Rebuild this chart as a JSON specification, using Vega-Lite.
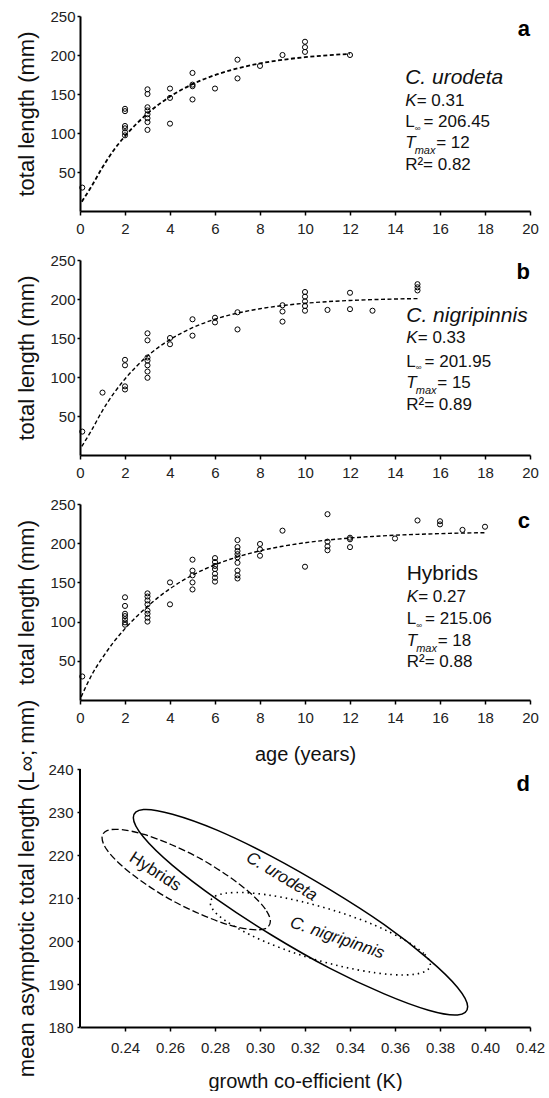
{
  "$schema": "https://vega.github.io/schema/vega-lite/v6.json",
  "padding": {"left": 15, "top": 9, "right": 0, "bottom": 0},
  "background": "white",
  "datasets": {
    "points": [
      {"panel":"a","age":0.1,"len":30},
      {"panel":"a","age":2,"len":131},{"panel":"a","age":2,"len":128},{"panel":"a","age":2,"len":109},{"panel":"a","age":2,"len":106},{"panel":"a","age":2,"len":101},{"panel":"a","age":2,"len":97},
      {"panel":"a","age":3,"len":156},{"panel":"a","age":3,"len":150},{"panel":"a","age":3,"len":133},{"panel":"a","age":3,"len":129},{"panel":"a","age":3,"len":124},{"panel":"a","age":3,"len":119},{"panel":"a","age":3,"len":114},{"panel":"a","age":3,"len":104},
      {"panel":"a","age":4,"len":157},{"panel":"a","age":4,"len":145},{"panel":"a","age":4,"len":112},
      {"panel":"a","age":5,"len":177},{"panel":"a","age":5,"len":162},{"panel":"a","age":5,"len":160},{"panel":"a","age":5,"len":143},
      {"panel":"a","age":6,"len":157},
      {"panel":"a","age":7,"len":194},{"panel":"a","age":7,"len":170},
      {"panel":"a","age":8,"len":186},
      {"panel":"a","age":9,"len":200},
      {"panel":"a","age":10,"len":217},{"panel":"a","age":10,"len":210},{"panel":"a","age":10,"len":204},
      {"panel":"a","age":12,"len":200},
      {"panel":"b","age":0.1,"len":30},{"panel":"b","age":1,"len":80},
      {"panel":"b","age":2,"len":122},{"panel":"b","age":2,"len":115},{"panel":"b","age":2,"len":88},{"panel":"b","age":2,"len":84},
      {"panel":"b","age":3,"len":156},{"panel":"b","age":3,"len":147},{"panel":"b","age":3,"len":125},{"panel":"b","age":3,"len":121},{"panel":"b","age":3,"len":115},{"panel":"b","age":3,"len":107},{"panel":"b","age":3,"len":99},
      {"panel":"b","age":4,"len":150},{"panel":"b","age":4,"len":142},
      {"panel":"b","age":5,"len":174},{"panel":"b","age":5,"len":153},
      {"panel":"b","age":6,"len":176},{"panel":"b","age":6,"len":170},
      {"panel":"b","age":7,"len":183},{"panel":"b","age":7,"len":161},
      {"panel":"b","age":9,"len":192},{"panel":"b","age":9,"len":184},{"panel":"b","age":9,"len":171},
      {"panel":"b","age":10,"len":209},{"panel":"b","age":10,"len":203},{"panel":"b","age":10,"len":197},{"panel":"b","age":10,"len":191},{"panel":"b","age":10,"len":185},
      {"panel":"b","age":11,"len":186},
      {"panel":"b","age":12,"len":208},{"panel":"b","age":12,"len":187},
      {"panel":"b","age":13,"len":185},
      {"panel":"b","age":15,"len":219},{"panel":"b","age":15,"len":215},{"panel":"b","age":15,"len":211},
      {"panel":"c","age":0.1,"len":30},
      {"panel":"c","age":2,"len":131},{"panel":"c","age":2,"len":120},{"panel":"c","age":2,"len":110},{"panel":"c","age":2,"len":107},{"panel":"c","age":2,"len":103},{"panel":"c","age":2,"len":99},{"panel":"c","age":2,"len":96},
      {"panel":"c","age":3,"len":136},{"panel":"c","age":3,"len":132},{"panel":"c","age":3,"len":127},{"panel":"c","age":3,"len":122},{"panel":"c","age":3,"len":114},{"panel":"c","age":3,"len":110},{"panel":"c","age":3,"len":105},{"panel":"c","age":3,"len":100},
      {"panel":"c","age":4,"len":150},{"panel":"c","age":4,"len":122},
      {"panel":"c","age":5,"len":179},{"panel":"c","age":5,"len":165},{"panel":"c","age":5,"len":159},{"panel":"c","age":5,"len":150},{"panel":"c","age":5,"len":141},
      {"panel":"c","age":6,"len":181},{"panel":"c","age":6,"len":176},{"panel":"c","age":6,"len":171},{"panel":"c","age":6,"len":167},{"panel":"c","age":6,"len":161},{"panel":"c","age":6,"len":156},{"panel":"c","age":6,"len":151},
      {"panel":"c","age":7,"len":204},{"panel":"c","age":7,"len":195},{"panel":"c","age":7,"len":190},{"panel":"c","age":7,"len":186},{"panel":"c","age":7,"len":182},{"panel":"c","age":7,"len":175},{"panel":"c","age":7,"len":165},{"panel":"c","age":7,"len":159},{"panel":"c","age":7,"len":155},
      {"panel":"c","age":8,"len":199},{"panel":"c","age":8,"len":192},{"panel":"c","age":8,"len":184},
      {"panel":"c","age":9,"len":216},
      {"panel":"c","age":10,"len":170},
      {"panel":"c","age":11,"len":237},{"panel":"c","age":11,"len":202},{"panel":"c","age":11,"len":196},{"panel":"c","age":11,"len":191},
      {"panel":"c","age":12,"len":207},{"panel":"c","age":12,"len":205},{"panel":"c","age":12,"len":195},
      {"panel":"c","age":14,"len":206},
      {"panel":"c","age":15,"len":229},
      {"panel":"c","age":16,"len":228},{"panel":"c","age":16,"len":224},
      {"panel":"c","age":17,"len":217},
      {"panel":"c","age":18,"len":221}
    ],
    "curves": [
      {"panel":"a","age":0.08,"len":12},{"panel":"a","age":0.5,"len":31},{"panel":"a","age":1,"len":56},{"panel":"a","age":1.5,"len":78},{"panel":"a","age":2,"len":96},{"panel":"a","age":3,"len":125},{"panel":"a","age":4,"len":146.7},{"panel":"a","age":5,"len":162.6},{"panel":"a","age":6,"len":174.3},{"panel":"a","age":7,"len":182.9},{"panel":"a","age":8,"len":189.2},{"panel":"a","age":9,"len":193.8},{"panel":"a","age":10,"len":197.2},{"panel":"a","age":11,"len":199.6},{"panel":"a","age":12,"len":201.4},
      {"panel":"b","age":0.08,"len":11},{"panel":"b","age":0.5,"len":31},{"panel":"b","age":1,"len":57},{"panel":"b","age":1.5,"len":79},{"panel":"b","age":2,"len":97.5},{"panel":"b","age":3,"len":126.9},{"panel":"b","age":4,"len":148},{"panel":"b","age":5,"len":163.2},{"panel":"b","age":6,"len":174.1},{"panel":"b","age":7,"len":181.9},{"panel":"b","age":8,"len":187.5},{"panel":"b","age":9,"len":191.6},{"panel":"b","age":10,"len":194.5},{"panel":"b","age":11,"len":196.6},{"panel":"b","age":12,"len":198.1},{"panel":"b","age":13,"len":199.2},{"panel":"b","age":14,"len":200},{"panel":"b","age":15,"len":200.5},
      {"panel":"c","age":0.05,"len":4},{"panel":"c","age":0.6,"len":36},{"panel":"c","age":1,"len":54},{"panel":"c","age":1.5,"len":74},{"panel":"c","age":2,"len":91},{"panel":"c","age":3,"len":119.4},{"panel":"c","age":4,"len":142},{"panel":"c","age":5,"len":159.3},{"panel":"c","age":6,"len":172.5},{"panel":"c","age":7,"len":182.5},{"panel":"c","age":8,"len":190.3},{"panel":"c","age":9,"len":196.1},{"panel":"c","age":10,"len":200.6},{"panel":"c","age":11,"len":204},{"panel":"c","age":12,"len":206.6},{"panel":"c","age":13,"len":208.6},{"panel":"c","age":14,"len":210.2},{"panel":"c","age":15,"len":211.3},{"panel":"c","age":16,"len":212.2},{"panel":"c","age":17,"len":212.9},{"panel":"c","age":18,"len":213.4}
    ],
    "species": [
      {"panel":"a","age":14.45,"len":162.8,"label":"C. urodeta"},
      {"panel":"b","age":14.5,"len":170.9,"label":"C. nigripinnis"},
      {"panel":"c","age":14.52,"len":153.2,"label":"Hybrids"}
    ],
    "stats": [
      {"panel":"a","stat":"K","age":14.45,"len":135,"sym":"K","val":"= 0.31"},
      {"panel":"a","stat":"L","age":14.45,"len":107.3,"sym":"L","val":"= 206.45"},
      {"panel":"a","stat":"T","age":14.45,"len":80.4,"sym":"T","val":"= 12"},
      {"panel":"a","stat":"R","age":14.45,"len":53,"sym":"R²= 0.82","val":""},
      {"panel":"b","stat":"K","age":14.5,"len":143.2,"sym":"K","val":"= 0.33"},
      {"panel":"b","stat":"L","age":14.5,"len":113.2,"sym":"L","val":"= 201.95"},
      {"panel":"b","stat":"T","age":14.5,"len":85.5,"sym":"T","val":"= 15"},
      {"panel":"b","stat":"R","age":14.5,"len":57.7,"sym":"R²= 0.89","val":""},
      {"panel":"c","stat":"K","age":14.52,"len":124.5,"sym":"K","val":"= 0.27"},
      {"panel":"c","stat":"L","age":14.52,"len":96.8,"sym":"L","val":"= 215.06"},
      {"panel":"c","stat":"T","age":14.52,"len":68.4,"sym":"T","val":"= 18"},
      {"panel":"c","stat":"R","age":14.52,"len":41.7,"sym":"R²= 0.88","val":""}
    ],
    "letters": [
      {"panel":"a","age":20,"len":224.7,"label":"a"},
      {"panel":"b","age":20,"len":225.3,"label":"b"},
      {"panel":"c","age":20,"len":219,"label":"c"}
    ],
    "ellipses": [
      {"sp":"urodeta","i":0,"k":0.3923,"linf":184.7},{"sp":"urodeta","i":1,"k":0.3878,"linf":189.2},{"sp":"urodeta","i":2,"k":0.3749,"linf":195.8},{"sp":"urodeta","i":3,"k":0.3552,"linf":203.8},{"sp":"urodeta","i":4,"k":0.3309,"linf":212.0},{"sp":"urodeta","i":5,"k":0.3051,"linf":219.7},{"sp":"urodeta","i":6,"k":0.2809,"linf":225.8},{"sp":"urodeta","i":7,"k":0.2611,"linf":229.5},{"sp":"urodeta","i":8,"k":0.2482,"linf":230.6},{"sp":"urodeta","i":9,"k":0.2437,"linf":228.7},{"sp":"urodeta","i":10,"k":0.2482,"linf":224.2},{"sp":"urodeta","i":11,"k":0.2611,"linf":217.6},{"sp":"urodeta","i":12,"k":0.2809,"linf":209.7},{"sp":"urodeta","i":13,"k":0.3051,"linf":201.4},{"sp":"urodeta","i":14,"k":0.3309,"linf":193.7},{"sp":"urodeta","i":15,"k":0.3552,"linf":187.7},{"sp":"urodeta","i":16,"k":0.3749,"linf":183.9},{"sp":"urodeta","i":17,"k":0.3878,"linf":182.8},
      {"sp":"hybrids","i":0,"k":0.3046,"linf":204.6},{"sp":"hybrids","i":1,"k":0.3024,"linf":207.4},{"sp":"hybrids","i":2,"k":0.2958,"linf":211.1},{"sp":"hybrids","i":3,"k":0.2859,"linf":215.1},{"sp":"hybrids","i":4,"k":0.2737,"linf":219.1},{"sp":"hybrids","i":5,"k":0.2607,"linf":222.4},{"sp":"hybrids","i":6,"k":0.2485,"linf":224.8},{"sp":"hybrids","i":7,"k":0.2386,"linf":225.9},{"sp":"hybrids","i":8,"k":0.2320,"linf":225.7},{"sp":"hybrids","i":9,"k":0.2298,"linf":224.0},{"sp":"hybrids","i":10,"k":0.2320,"linf":221.2},{"sp":"hybrids","i":11,"k":0.2386,"linf":217.5},{"sp":"hybrids","i":12,"k":0.2485,"linf":213.5},{"sp":"hybrids","i":13,"k":0.2607,"linf":209.5},{"sp":"hybrids","i":14,"k":0.2737,"linf":206.2},{"sp":"hybrids","i":15,"k":0.2859,"linf":203.8},{"sp":"hybrids","i":16,"k":0.2958,"linf":202.7},{"sp":"hybrids","i":17,"k":0.3024,"linf":202.9},
      {"sp":"nigripinnis","i":0,"k":0.3757,"linf":194.5},{"sp":"nigripinnis","i":1,"k":0.3728,"linf":197.1},{"sp":"nigripinnis","i":2,"k":0.3643,"linf":200.2},{"sp":"nigripinnis","i":3,"k":0.3513,"linf":203.6},{"sp":"nigripinnis","i":4,"k":0.3353,"linf":206.7},{"sp":"nigripinnis","i":5,"k":0.3183,"linf":209.2},{"sp":"nigripinnis","i":6,"k":0.3024,"linf":210.8},{"sp":"nigripinnis","i":7,"k":0.2893,"linf":211.3},{"sp":"nigripinnis","i":8,"k":0.2808,"linf":210.6},{"sp":"nigripinnis","i":9,"k":0.2779,"linf":208.9},{"sp":"nigripinnis","i":10,"k":0.2808,"linf":206.3},{"sp":"nigripinnis","i":11,"k":0.2893,"linf":203.2},{"sp":"nigripinnis","i":12,"k":0.3024,"linf":199.8},{"sp":"nigripinnis","i":13,"k":0.3183,"linf":196.7},{"sp":"nigripinnis","i":14,"k":0.3353,"linf":194.2},{"sp":"nigripinnis","i":15,"k":0.3513,"linf":192.6},{"sp":"nigripinnis","i":16,"k":0.3643,"linf":192.1},{"sp":"nigripinnis","i":17,"k":0.3728,"linf":192.8}
    ],
    "dlabels": [
      {"name":"urodeta","k":0.3096,"linf":215.0,"label":"C. urodeta"},
      {"name":"nigripinnis","k":0.3343,"linf":200.7,"label":"C. nigripinnis"},
      {"name":"hybrids","k":0.2534,"linf":216.1,"label":"Hybrids"},
      {"name":"letter","k":0.42,"linf":234.9,"label":"d"}
    ],
    "daxis": [
      {"k":0.22,"linf":180,"linf2":240}
    ]
  },
  "vconcat": [
    {
      "width": 450, "height": 195,
      "encoding": {
        "x": {"field":"age","type":"quantitative","scale":{"domain":[0,20],"nice":false,"zero":false},"axis":{"values":[0,2,4,6,8,10,12,14,16,18,20],"title":null,"tickSize":4,"labelPadding":6}},
        "y": {"field":"len","type":"quantitative","scale":{"domain":[0,250],"nice":false},"axis":{"values":[50,100,150,200,250],"title":"total length (mm)","titleFontSize":22,"tickSize":3,"labelPadding":2,"titlePadding":11}}
      },
      "layer": [
        {"data":{"name":"curves"},"transform":[{"filter":"datum.panel==='a'"}],"mark":{"type":"line","color":"black","strokeWidth":1.8,"strokeDash":[4,2.5],"interpolate":"monotone"}},
        {"data":{"name":"points"},"transform":[{"filter":"datum.panel==='a'"}],"mark":{"type":"point","shape":"circle","filled":false,"color":"black","size":26,"strokeWidth":1,"opacity":1}},
        {"data":{"name":"species"},"transform":[{"filter":"datum.panel==='a'"}],"mark":{"type":"text","align":"left","baseline":"alphabetic","fontSize":21,"fontStyle":"italic","color":"#111"},"encoding":{"text":{"field":"label"}}},
        {"data":{"name":"stats"},"transform":[{"filter":"datum.panel==='a' && (datum.stat==='K' || datum.stat==='T')"}],"mark":{"type":"text","align":"left","baseline":"alphabetic","fontSize":17,"fontStyle":"italic","color":"#111"},"encoding":{"text":{"field":"sym"}}},
        {"data":{"name":"stats"},"transform":[{"filter":"datum.panel==='a' && (datum.stat==='L' || datum.stat==='R')"}],"mark":{"type":"text","align":"left","baseline":"alphabetic","fontSize":17,"color":"#111"},"encoding":{"text":{"field":"sym"}}},
        {"data":{"name":"stats"},"transform":[{"filter":"datum.panel==='a' && datum.stat==='K'"}],"mark":{"type":"text","align":"left","baseline":"alphabetic","fontSize":17,"dx":11.5,"color":"#111"},"encoding":{"text":{"field":"val"}}},
        {"data":{"name":"stats"},"transform":[{"filter":"datum.panel==='a' && datum.stat==='L'"}],"mark":{"type":"text","align":"left","baseline":"alphabetic","fontSize":17,"dx":18.3,"color":"#111"},"encoding":{"text":{"field":"val"}}},
        {"data":{"name":"stats"},"transform":[{"filter":"datum.panel==='a' && datum.stat==='T'"}],"mark":{"type":"text","align":"left","baseline":"alphabetic","fontSize":17,"dx":31,"color":"#111"},"encoding":{"text":{"field":"val"}}},
        {"data":{"name":"stats"},"transform":[{"filter":"datum.panel==='a' && datum.stat==='L'"}],"mark":{"type":"text","text":"∞","align":"left","baseline":"alphabetic","fontSize":8,"dx":9.5,"dy":3.5,"color":"#111"}},
        {"data":{"name":"stats"},"transform":[{"filter":"datum.panel==='a' && datum.stat==='T'"}],"mark":{"type":"text","text":"max","align":"left","baseline":"alphabetic","fontSize":11,"fontStyle":"italic","dx":9.5,"dy":5.7,"color":"#111"}},
        {"data":{"name":"letters"},"transform":[{"filter":"datum.panel==='a'"}],"mark":{"type":"text","align":"right","baseline":"alphabetic","fontSize":22,"fontWeight":"bold","color":"black"},"encoding":{"text":{"field":"label"}}}
      ]
    },
    {
      "width": 450, "height": 195,
      "encoding": {
        "x": {"field":"age","type":"quantitative","scale":{"domain":[0,20],"nice":false,"zero":false},"axis":{"values":[0,2,4,6,8,10,12,14,16,18,20],"title":null,"tickSize":4,"labelPadding":6}},
        "y": {"field":"len","type":"quantitative","scale":{"domain":[0,250],"nice":false},"axis":{"values":[50,100,150,200,250],"title":"total length (mm)","titleFontSize":22,"tickSize":3,"labelPadding":2,"titlePadding":11}}
      },
      "layer": [
        {"data":{"name":"curves"},"transform":[{"filter":"datum.panel==='b'"}],"mark":{"type":"line","color":"black","strokeWidth":1.4,"strokeDash":[4,2.5],"interpolate":"monotone"}},
        {"data":{"name":"points"},"transform":[{"filter":"datum.panel==='b'"}],"mark":{"type":"point","shape":"circle","filled":false,"color":"black","size":26,"strokeWidth":1,"opacity":1}},
        {"data":{"name":"species"},"transform":[{"filter":"datum.panel==='b'"}],"mark":{"type":"text","align":"left","baseline":"alphabetic","fontSize":21,"fontStyle":"italic","color":"#111"},"encoding":{"text":{"field":"label"}}},
        {"data":{"name":"stats"},"transform":[{"filter":"datum.panel==='b' && (datum.stat==='K' || datum.stat==='T')"}],"mark":{"type":"text","align":"left","baseline":"alphabetic","fontSize":17,"fontStyle":"italic","color":"#111"},"encoding":{"text":{"field":"sym"}}},
        {"data":{"name":"stats"},"transform":[{"filter":"datum.panel==='b' && (datum.stat==='L' || datum.stat==='R')"}],"mark":{"type":"text","align":"left","baseline":"alphabetic","fontSize":17,"color":"#111"},"encoding":{"text":{"field":"sym"}}},
        {"data":{"name":"stats"},"transform":[{"filter":"datum.panel==='b' && datum.stat==='K'"}],"mark":{"type":"text","align":"left","baseline":"alphabetic","fontSize":17,"dx":11.5,"color":"#111"},"encoding":{"text":{"field":"val"}}},
        {"data":{"name":"stats"},"transform":[{"filter":"datum.panel==='b' && datum.stat==='L'"}],"mark":{"type":"text","align":"left","baseline":"alphabetic","fontSize":17,"dx":18.3,"color":"#111"},"encoding":{"text":{"field":"val"}}},
        {"data":{"name":"stats"},"transform":[{"filter":"datum.panel==='b' && datum.stat==='T'"}],"mark":{"type":"text","align":"left","baseline":"alphabetic","fontSize":17,"dx":31,"color":"#111"},"encoding":{"text":{"field":"val"}}},
        {"data":{"name":"stats"},"transform":[{"filter":"datum.panel==='b' && datum.stat==='L'"}],"mark":{"type":"text","text":"∞","align":"left","baseline":"alphabetic","fontSize":8,"dx":9.5,"dy":3.5,"color":"#111"}},
        {"data":{"name":"stats"},"transform":[{"filter":"datum.panel==='b' && datum.stat==='T'"}],"mark":{"type":"text","text":"max","align":"left","baseline":"alphabetic","fontSize":11,"fontStyle":"italic","dx":9.5,"dy":5.7,"color":"#111"}},
        {"data":{"name":"letters"},"transform":[{"filter":"datum.panel==='b'"}],"mark":{"type":"text","align":"right","baseline":"alphabetic","fontSize":22,"fontWeight":"bold","color":"black"},"encoding":{"text":{"field":"label"}}}
      ]
    },
    {
      "width": 450, "height": 196,
      "encoding": {
        "x": {"field":"age","type":"quantitative","scale":{"domain":[0,20],"nice":false,"zero":false},"axis":{"values":[0,2,4,6,8,10,12,14,16,18,20],"title":"age (years)","titleFontSize":20,"tickSize":4,"labelPadding":6,"titlePadding":19}},
        "y": {"field":"len","type":"quantitative","scale":{"domain":[0,250],"nice":false},"axis":{"values":[50,100,150,200,250],"title":"total length (mm)","titleFontSize":22,"tickSize":3,"labelPadding":2,"titlePadding":11}}
      },
      "layer": [
        {"data":{"name":"curves"},"transform":[{"filter":"datum.panel==='c'"}],"mark":{"type":"line","color":"black","strokeWidth":1.4,"strokeDash":[4,2.5],"interpolate":"monotone"}},
        {"data":{"name":"points"},"transform":[{"filter":"datum.panel==='c'"}],"mark":{"type":"point","shape":"circle","filled":false,"color":"black","size":26,"strokeWidth":1,"opacity":1}},
        {"data":{"name":"species"},"transform":[{"filter":"datum.panel==='c'"}],"mark":{"type":"text","align":"left","baseline":"alphabetic","fontSize":21,"color":"#111"},"encoding":{"text":{"field":"label"}}},
        {"data":{"name":"stats"},"transform":[{"filter":"datum.panel==='c' && (datum.stat==='K' || datum.stat==='T')"}],"mark":{"type":"text","align":"left","baseline":"alphabetic","fontSize":17,"fontStyle":"italic","color":"#111"},"encoding":{"text":{"field":"sym"}}},
        {"data":{"name":"stats"},"transform":[{"filter":"datum.panel==='c' && (datum.stat==='L' || datum.stat==='R')"}],"mark":{"type":"text","align":"left","baseline":"alphabetic","fontSize":17,"color":"#111"},"encoding":{"text":{"field":"sym"}}},
        {"data":{"name":"stats"},"transform":[{"filter":"datum.panel==='c' && datum.stat==='K'"}],"mark":{"type":"text","align":"left","baseline":"alphabetic","fontSize":17,"dx":11.5,"color":"#111"},"encoding":{"text":{"field":"val"}}},
        {"data":{"name":"stats"},"transform":[{"filter":"datum.panel==='c' && datum.stat==='L'"}],"mark":{"type":"text","align":"left","baseline":"alphabetic","fontSize":17,"dx":18.3,"color":"#111"},"encoding":{"text":{"field":"val"}}},
        {"data":{"name":"stats"},"transform":[{"filter":"datum.panel==='c' && datum.stat==='T'"}],"mark":{"type":"text","align":"left","baseline":"alphabetic","fontSize":17,"dx":31,"color":"#111"},"encoding":{"text":{"field":"val"}}},
        {"data":{"name":"stats"},"transform":[{"filter":"datum.panel==='c' && datum.stat==='L'"}],"mark":{"type":"text","text":"∞","align":"left","baseline":"alphabetic","fontSize":8,"dx":9.5,"dy":3.5,"color":"#111"}},
        {"data":{"name":"stats"},"transform":[{"filter":"datum.panel==='c' && datum.stat==='T'"}],"mark":{"type":"text","text":"max","align":"left","baseline":"alphabetic","fontSize":11,"fontStyle":"italic","dx":9.5,"dy":5.7,"color":"#111"}},
        {"data":{"name":"letters"},"transform":[{"filter":"datum.panel==='c'"}],"mark":{"type":"text","align":"right","baseline":"alphabetic","fontSize":22,"fontWeight":"bold","color":"black"},"encoding":{"text":{"field":"label"}}}
      ]
    },
    {
      "width": 450, "height": 278,
      "encoding": {
        "x": {"field":"k","type":"quantitative","scale":{"domain":[0.22,0.42],"nice":false,"zero":false},"axis":{"values":[0.24,0.26,0.28,0.30,0.32,0.34,0.36,0.38,0.40,0.42],"format":".2f","title":"growth co-efficient (K)","titleFontSize":20,"tickSize":4,"labelPadding":9,"titlePadding":16}},
        "y": {"field":"linf","type":"quantitative","scale":{"domain":[180,244.67],"nice":false,"zero":false},"axis":{"values":[180,190,200,210,220,230,240],"domain":false,"title":"mean asymptotic total length (L∞; mm)","titleFontSize":22,"tickSize":3,"labelPadding":4,"titlePadding":9,"titleY":139}}
      },
      "layer": [
        {"data":{"name":"daxis"},"mark":{"type":"rule","color":"black","strokeWidth":2},"encoding":{"y2":{"field":"linf2"}}},
        {"data":{"name":"ellipses"},"transform":[{"filter":"datum.sp==='urodeta'"}],"mark":{"type":"line","color":"black","strokeWidth":1.5,"interpolate":"cardinal-closed"},"encoding":{"order":{"field":"i","type":"quantitative"}}},
        {"data":{"name":"ellipses"},"transform":[{"filter":"datum.sp==='hybrids'"}],"mark":{"type":"line","color":"black","strokeWidth":1.3,"strokeDash":[7,3],"interpolate":"cardinal-closed"},"encoding":{"order":{"field":"i","type":"quantitative"}}},
        {"data":{"name":"ellipses"},"transform":[{"filter":"datum.sp==='nigripinnis'"}],"mark":{"type":"line","color":"black","strokeWidth":1.6,"strokeDash":[1.5,4],"interpolate":"cardinal-closed"},"encoding":{"order":{"field":"i","type":"quantitative"}}},
        {"data":{"name":"dlabels"},"transform":[{"filter":"datum.name==='urodeta'"}],"mark":{"type":"text","align":"center","baseline":"middle","fontSize":17,"fontStyle":"italic","angle":31,"color":"#111"},"encoding":{"text":{"field":"label"}}},
        {"data":{"name":"dlabels"},"transform":[{"filter":"datum.name==='nigripinnis'"}],"mark":{"type":"text","align":"center","baseline":"middle","fontSize":17,"fontStyle":"italic","angle":19,"color":"#111"},"encoding":{"text":{"field":"label"}}},
        {"data":{"name":"dlabels"},"transform":[{"filter":"datum.name==='hybrids'"}],"mark":{"type":"text","align":"center","baseline":"middle","fontSize":17,"angle":33,"color":"#111"},"encoding":{"text":{"field":"label"}}},
        {"data":{"name":"dlabels"},"transform":[{"filter":"datum.name==='letter'"}],"mark":{"type":"text","align":"right","baseline":"alphabetic","fontSize":22,"fontWeight":"bold","color":"black"},"encoding":{"text":{"field":"label"}}}
      ]
    }
  ],
  "spacing": 49,
  "bounds": "flush",
  "config": {
    "view": {"stroke": null},
    "font": "Liberation Sans",
    "text": {"font": "Liberation Sans"},
    "axis": {
      "grid": false,
      "domainColor": "black",
      "domainWidth": 2,
      "tickColor": "black",
      "tickWidth": 1.5,
      "labelFont": "Liberation Sans",
      "labelFontSize": 15,
      "labelColor": "#222",
      "titleFont": "Liberation Sans",
      "titleFontWeight": "normal",
      "titleColor": "#111",
      "labelFlush": false,
      "labelOverlap": false
    }
  }
}
